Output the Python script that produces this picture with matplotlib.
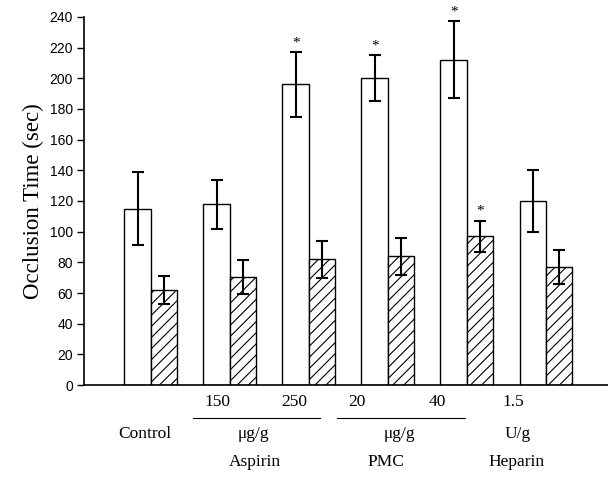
import numpy as np
import matplotlib.pyplot as plt

# values
groups = ['Control', 'Aspirin 150', 'Aspirin 250', 'PMC 20', 'PMC 40', 'Heparin 1.5']
open_means = [115, 118, 196, 200, 212, 120]
open_err = [24, 16, 21, 15, 25, 20]
hatch_means = [62, 70.5, 82, 84, 97, 77]
hatch_err = [9, 11, 12, 12, 10, 11]
open_star = [False, False, True, True, True, False]
hatch_star = [False, False, False, False, True, False]
y_ticks = list(range(0, 241, 20))

serif = ['Liberation Serif', 'DejaVu Serif']
sans = ['Liberation Sans', 'DejaVu Sans']

fig = plt.figure(figsize=(6.08, 4.82), dpi=100)
ax = fig.add_axes([0.138, 0.201, 0.862, 0.764])

x = np.arange(len(groups))
w = 0.335
plt.rcParams['hatch.linewidth'] = 0.8

ax.bar(x - w / 2, open_means, w, color='white', edgecolor='black', linewidth=1.0,
       yerr=open_err, capsize=4.4, error_kw=dict(elinewidth=1.5, capthick=1.5, ecolor='black'))
ax.bar(x + w / 2, hatch_means, w, color='white', edgecolor='black', linewidth=1.0, hatch='///',
       yerr=hatch_err, capsize=4.4, error_kw=dict(elinewidth=1.5, capthick=1.5, ecolor='black'))

for i in range(len(groups)):
    if open_star[i]:
        ax.text(x[i] - w / 2, open_means[i] + open_err[i] + 2, '*', ha='center', va='bottom',
                fontsize=11, family=serif)
    if hatch_star[i]:
        ax.text(x[i] + w / 2, hatch_means[i] + hatch_err[i] + 2, '*', ha='center', va='bottom',
                fontsize=11, family=serif)

ax.set_xlim(-0.848, 5.785)
ax.set_ylim(0, 240)
ax.set_yticks(y_ticks)
ax.set_yticklabels([str(t) for t in y_ticks], family=sans, fontsize=10)
ax.tick_params(axis='y', direction='out', length=5, width=1, pad=3)
ax.set_xticks([])
ax.spines['top'].set_visible(False)
ax.spines['right'].set_visible(False)
ax.spines['left'].set_linewidth(1.2)
ax.spines['bottom'].set_linewidth(1.2)

ax.set_ylabel('Occlusion Time (sec)', family=serif, fontsize=16.5, labelpad=4)

# category labels below the axis
tr = ax.get_xaxis_transform()
fs = 12.5
row1, row2, row3 = -0.045, -0.132, -0.21
doses = [(0.84, '150'), (1.82, '250'), (2.61, '20'), (3.63, '40'), (4.58, '1.5')]
for xp, s in doses:
    ax.text(xp, row1, s, transform=tr, ha='center', va='center', fontsize=fs, family=serif)
units = [(-0.08, 'Control'), (1.30, 'μg/g'), (3.15, 'μg/g'), (4.64, 'U/g')]
for xp, s in units:
    ax.text(xp, row2, s, transform=tr, ha='center', va='center', fontsize=fs, family=serif)
drugs = [(1.32, 'Aspirin'), (2.97, 'PMC'), (4.63, 'Heparin')]
for xp, s in drugs:
    ax.text(xp, row3, s, transform=tr, ha='center', va='center', fontsize=fs, family=serif)

for x0, x1 in [(0.53, 2.14), (2.36, 3.98)]:
    ax.plot([x0, x1], [-0.09, -0.09], transform=tr, color='black', linewidth=0.8, clip_on=False)

fig.savefig('out.png', dpi=100)
